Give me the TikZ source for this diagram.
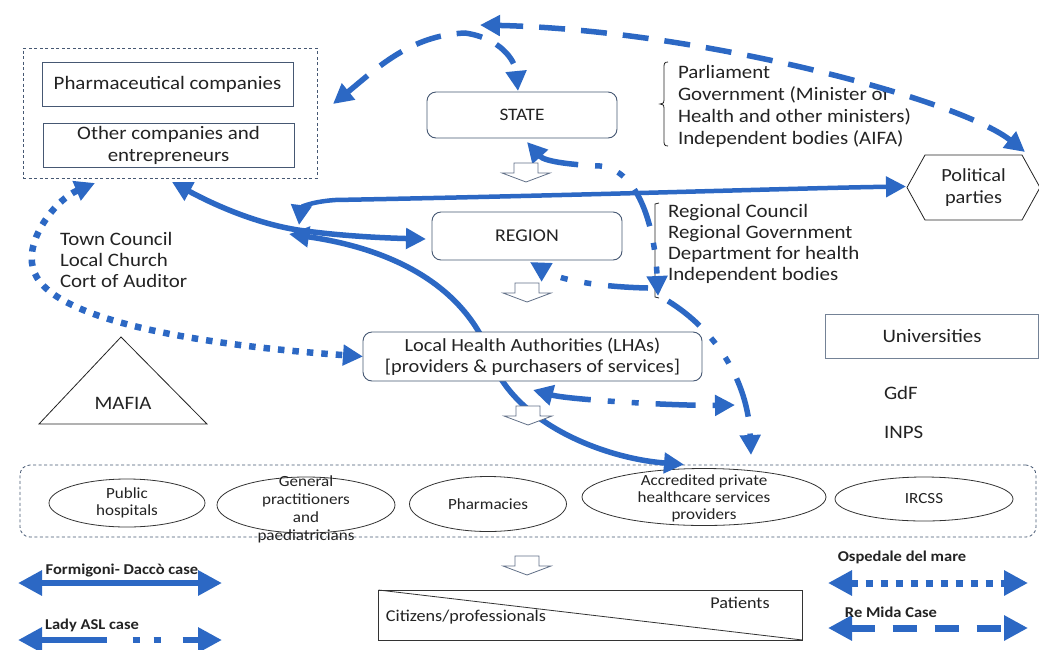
\documentclass[tikz,border=0pt]{standalone}
\usepackage{fontspec}
\setmainfont[FakeStretch=1.1]{Carlito}
\usetikzlibrary{arrows.meta,calc,shapes.geometric}
\pgfdeclarelayer{front}
\pgfsetlayers{main,front}
\definecolor{arrblue}{RGB}{44,104,196}
\definecolor{boxline}{RGB}{70,88,115}
\definecolor{txt}{RGB}{35,35,35}
\begin{document}
\begin{tikzpicture}[x=1pt,y=-1pt,
  every node/.style={text=txt, inner sep=0pt, outer sep=0pt},
  bigtxt/.style={font=\fontsize{19}{22}\selectfont},
  sqbox/.style={draw=boxline, line width=0.9pt, fill=white},
  rbox/.style={sqbox, rounded corners=9pt},
  grpbox/.style={draw=boxline, line width=0.8pt, dash pattern=on 3pt off 2.5pt},
  ellshape/.style={ellipse, draw=black!80, line width=0.8pt},
  elltxt/.style={align=center, font=\fontsize{15.5}{17}\selectfont},
  legtxt/.style={font=\bfseries\fontsize{15}{16}\selectfont},
  thinline/.style={draw=txt, line width=0.8pt},
  conn/.style={draw=arrblue, line width=5.5pt},
  twoheads/.style={arrows={Triangle[length=20pt,width=20pt]-Triangle[length=20pt,width=20pt]}},
  onehead/.style={arrows={-Triangle[length=20pt,width=20pt]}},
  solidline/.style={conn},
  dashline/.style={conn, dash pattern=on 26pt off 16pt},
  dotline/.style={conn, line width=6.5pt, dash pattern=on 6.5pt off 8pt},
  dashdotline/.style={conn, dash pattern=on 40pt off 17pt on 7pt off 17pt on 7pt off 17pt},
  pics/hdown/.style={code={\draw[draw=boxline!85, line width=0.8pt, fill=white] (-12,0) -- (12,0) -- (12,10) -- (24,10) -- (0,19) -- (-24,10) -- (-12,10) -- cycle;}}
]
\useasboundingbox (0,0) rectangle (1039,649);
\fill[white] (0,0) rectangle (1039,649);

% ---------- companies group
\node[grpbox, minimum width=294pt, minimum height=130pt] (compgrp) at (170,113) {};
\node[sqbox, minimum width=251pt, minimum height=44pt, bigtxt] (pharma) at (167.5,84) {Pharmaceutical companies};
\node[sqbox, minimum width=251pt, minimum height=44pt, bigtxt, align=center] (other) at (168.5,145) {Other companies and\\entrepreneurs};

% ---------- institutions
\node[rbox, minimum width=190pt, minimum height=46pt, font=\fontsize{17.5}{19}\selectfont] (state) at (522,115) {STATE};
\node[rbox, minimum width=190pt, minimum height=48pt, font=\fontsize{18}{19}\selectfont] (region) at (527,236) {REGION};

\draw[thinline] (668,62) .. controls (664,62) and (664,64) .. (664,68) -- (664,100) .. controls (664,103) .. (660,104) .. controls (664,105) .. (664,108) -- (664,140) .. controls (664,144) and (664,146) .. (668,146);
\node[anchor=west, align=left, font=\fontsize{19}{22}\selectfont] (govtxt) at (678,106) {Parliament\\Government (Minister of\\Health and other ministers)\\Independent bodies (AIFA)};

\draw[thinline] (659,203) -- (655,204) -- (655,297) -- (659,298);
\node[anchor=west, align=left, font=\fontsize{19}{21}\selectfont] (regtxt) at (668,243.5) {Regional Council\\Regional Government\\Department for health\\Independent bodies};

\node[anchor=west, align=left, font=\fontsize{19}{21}\selectfont] (towntxt) at (60,260) {Town Council\\Local Church\\Cort of Auditor};

\node[minimum width=133pt, minimum height=65pt, font=\fontsize{18.5}{22}\selectfont, align=center] (pol) at (973.5,187.5) {Political\\parties};
\draw[thinline] (pol.west) -- ($(pol.north west)+(18,0)$) -- ($(pol.north east)+(-18,0)$) -- (pol.east) -- ($(pol.south east)+(-18,0)$) -- ($(pol.south west)+(18,0)$) -- cycle;

\node[sqbox, draw=boxline!75, minimum width=213pt, minimum height=44pt, bigtxt] (univ) at (932,336) {Universities};
\node[anchor=west, font=\fontsize{19}{20}\selectfont] (gdf) at (884,393) {GdF};
\node[anchor=west, font=\fontsize{19}{20}\selectfont] (inps) at (884,432) {INPS};

\node[bigtxt] (mafia) at (123,403) {MAFIA};
\draw[thinline] (121,337) -- (207,424) -- (39,424) -- cycle;

% ---------- providers
\node[grpbox, rounded corners=10pt, minimum width=1016pt, minimum height=72pt] (provgrp) at (528,501) {};
\node[ellshape, minimum width=156pt, minimum height=48pt] (pubh) at (127,503) {};
\node[elltxt] (pubhT) at (pubh) {Public\\hospitals};
\node[ellshape, minimum width=178pt, minimum height=56pt] (gp) at (306,505) {};
\node[elltxt, font=\fontsize{15.5}{18}\selectfont] (gpT) at (306,509) {General\\practitioners\\and\\paediatricians};
\node[ellshape, minimum width=157pt, minimum height=55pt] (pharm) at (488,504) {};
\node[elltxt] (pharmT) at (pharm) {Pharmacies};
\node[ellshape, minimum width=244pt, minimum height=57pt] (acc) at (704,497) {};
\node[elltxt] (accT) at (704,498) {Accredited private\\healthcare services\\providers};
\node[ellshape, minimum width=178pt, minimum height=44pt] (ircss) at (924,499) {};
\node[elltxt] (ircssT) at (ircss) {IRCSS};

% ---------- citizens
\node[sqbox, draw=black!80, minimum width=424pt, minimum height=50pt] (cit) at (590.5,615) {};
\draw[thinline, draw=black!80] (cit.north west) -- (cit.south east);
\node[elltxt, font=\fontsize{16.5}{18}\selectfont] (patT) at (740,603) {Patients};
\node[elltxt, font=\fontsize{16.5}{18}\selectfont] (citT) at (466,617) {Citizens/professionals};

% ---------- front layer: LHA box and hollow arrows
\begin{pgfonlayer}{front}
\node[rbox, minimum width=339pt, minimum height=49pt, align=center, font=\fontsize{18.5}{21}\selectfont] (lha) at (532.5,356.5) {Local Health Authorities (LHAs)\\{[}providers \& purchasers of services{]}};
\pic at (526,163) {hdown};
\pic at (527,283) {hdown};
\pic at (528,406) {hdown};
\pic at (527,556) {hdown};
\end{pgfonlayer}

% ---------- free ends
\coordinate (hubA) at (299,225);
\coordinate (hubB) at (298,230);
\coordinate (hubC) at (289,234);
\coordinate (rmTop) at (480,25);
\coordinate (laA) at (658,296);
\coordinate (laB) at (648,288);
\coordinate (laC) at (668,301);
\coordinate (laD) at (751,455);
\coordinate (laE) at (735,405);

% ---------- Re Mida (dashed)
\draw[dashline, twoheads] ($(compgrp.east)+(16,-9)$) .. controls (375,70) and (410,35) .. (465,33) .. controls (500,38) and (515,60) .. ($(state.north)+(-4,-1)$);
\draw[dashline, twoheads] ($(pol.north east)+(-15,-3)$) .. controls (960,100) and (700,30) .. (rmTop);

% ---------- Formigoni (solid)
\draw[solidline, twoheads] ($(compgrp.south)+(2,4)$) .. controls (220,208) and (260,224) .. (hubB) .. controls (340,236) and (385,238) .. ($(region.west)+(-6,3)$);
\draw[solidline, line width=4.5pt, twoheads] (hubA) .. controls (301,208) and (308,202) .. (335,200) .. controls (600,195) and (800,188) .. ($(pol.west)+(-1,-1)$);
\draw[solidline, twoheads] (hubC) .. controls (400,250) and (465,290) .. (490,355) .. controls (510,420) and (600,458) .. ($(acc.north)+(-20,-4)$);

% ---------- Ospedale del mare (dotted)
\draw[dotline, twoheads] ($(compgrp.south)+(-75,5)$) .. controls (55,200) and (25,240) .. (33,268) .. controls (45,320) and (200,345) .. (lha.west);

% ---------- Lady ASL (dash-dot)
\draw[dashdotline, twoheads] ($(state.south)+(5,4)$) .. controls (545,162) and (575,165) .. (600,166) .. controls (640,170) and (655,230) .. (laA);
\draw[dashdotline, onehead] (laB) .. controls (600,287) and (560,280) .. ($(region.south)+(3,2)$);
\draw[dashdotline, onehead] (laC) .. controls (715,330) and (748,380) .. (laD);
\draw[dashdotline, twoheads] ($(lha.south)+(0.5,9)$) .. controls (570,400) and (680,406) .. (laE);

% ---------- legend
\coordinate (lgFa) at (18,583); \coordinate (lgFb) at (222,583);
\coordinate (lgLa) at (18,640); \coordinate (lgLb) at (222,640);
\coordinate (lgOa) at (828,583); \coordinate (lgOb) at (1028,583);
\coordinate (lgRa) at (828,628); \coordinate (lgRb) at (1028,628);
\draw[solidline, line width=6.5pt, arrows={Triangle[length=24pt,width=24pt]-Triangle[length=24pt,width=24pt]}] (lgFa) -- (lgFb);
\node[legtxt] (lgFt) at (122,570) {Formigoni- Daccò case};
\draw[conn, line width=6.5pt, dash pattern=on 66pt off 26pt on 7pt off 14pt on 7pt off 22pt on 60pt, arrows={Triangle[length=24pt,width=24pt]-Triangle[length=24pt,width=24pt]}] (lgLa) -- (lgLb);
\node[legtxt] (lgLt) at (92,625) {Lady ASL case};
\draw[dotline, line width=7pt, dash pattern=on 7pt off 8pt, arrows={Triangle[length=24pt,width=24pt]-Triangle[length=24pt,width=24pt]}] (lgOa) -- (lgOb);
\node[legtxt] (lgOt) at (902,557) {Ospedale del mare};
\draw[conn, line width=7pt, dash pattern=on 24pt off 18pt, arrows={Triangle[length=24pt,width=24pt]-Triangle[length=24pt,width=24pt]}] (lgRa) -- (lgRb);
\node[legtxt] (lgRt) at (891,612) {Re Mida Case};
\end{tikzpicture}
\end{document}
